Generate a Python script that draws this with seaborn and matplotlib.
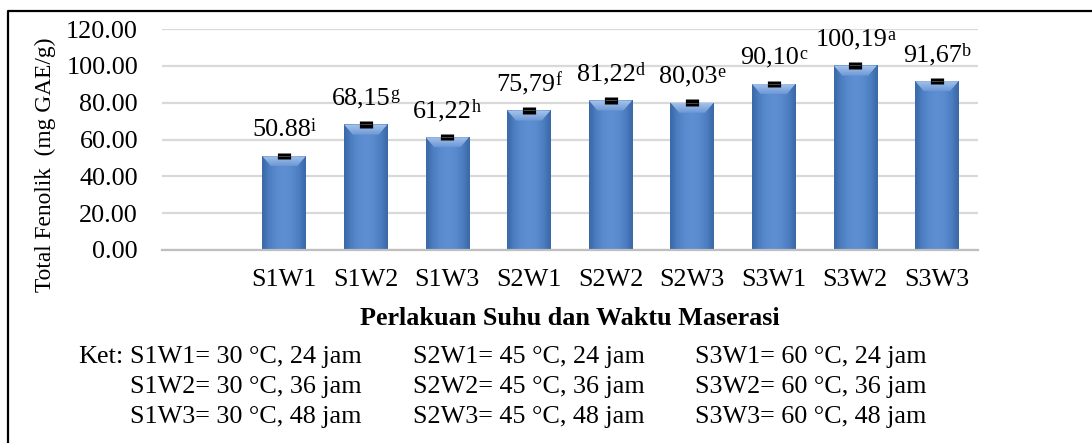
import numpy as np
import pandas as pd
import matplotlib
matplotlib.use("Agg")
import matplotlib.pyplot as plt
import seaborn as sns
from matplotlib.colors import LinearSegmentedColormap
from matplotlib.lines import Line2D
from matplotlib.patches import Polygon

# ---- data ----
categories = ["S1W1", "S1W2", "S1W3", "S2W1", "S2W2", "S2W3", "S3W1", "S3W2", "S3W3"]
values = [50.88, 68.15, 61.22, 75.79, 81.22, 80.03, 90.10, 100.19, 91.67]
errors = [1.7, 1.7, 1.7, 1.7, 1.7, 1.7, 1.7, 1.7, 1.7]
value_labels = ["50.88", "68,15", "61,22", "75,79", "81,22", "80,03", "90,10", "100,19", "91,67"]
letters = ["i", "g", "h", "f", "d", "e", "c", "a", "b"]
y_ticks = [0, 20, 40, 60, 80, 100, 120]
temps = [30, 45, 60]
times = [24, 36, 48]

sns.set_theme(style="white")
plt.rcParams["font.family"] = ["Liberation Serif", "DejaVu Serif"]

FS = 18.8
SUP_FS = 13
W, H = 1092, 443
fig = plt.figure(figsize=(W / 100, H / 100), dpi=100)
ax = fig.add_axes([161.7 / W, 1 - 250 / H, 816 / W, 221 / H])

df = pd.DataFrame({"cat": categories, "val": values})
sns.barplot(data=df, x="cat", y="val", order=categories, color="#4F81BD",
            width=0.53, errorbar=None, ax=ax, zorder=2)

# gradient fill on bars
cmap = LinearSegmentedColormap.from_list(
    "bar", ["#3A67A6", "#4C7EC2", "#5A8BCF", "#5E8FD2", "#5A8BCF", "#4C7EC2", "#3A67A6"])
grad = np.linspace(0, 1, 256).reshape(1, -1)
vgrad = np.linspace(1, 0, 64).reshape(-1, 1)
top_cmap = LinearSegmentedColormap.from_list("top", ["#6C98D6", "#A9C6EC"])
for p in ax.patches:
    x0, y0 = p.get_x(), p.get_y()
    w, h = p.get_width(), p.get_height()
    p.set_edgecolor("none")
    im = ax.imshow(grad, cmap=cmap, aspect="auto", extent=[x0, x0 + w, y0, y0 + h],
                   zorder=2.1, interpolation="bilinear")
    im.set_clip_path(p)
    bh = 5.5
    d = w * 0.2
    top = y0 + h
    bevel = Polygon([[x0, top], [x0 + w, top], [x0 + w - d, top - bh], [x0 + d, top - bh]],
                    closed=True, facecolor="none", edgecolor="none", zorder=2.2)
    ax.add_patch(bevel)
    imt = ax.imshow(vgrad, cmap=top_cmap, aspect="auto",
                    extent=[x0, x0 + w, top - bh, top], zorder=2.2, interpolation="bilinear")
    imt.set_clip_path(bevel)

xs = np.arange(len(categories))
eb = ax.errorbar(xs, values, yerr=errors, fmt="none", ecolor="black",
                 elinewidth=9.5, capsize=0, zorder=3)
for lc in eb.lines[2]:
    lc.set_capstyle("butt")
ax.scatter(xs, values, marker="_", s=70, color="#555555", linewidths=0.6, zorder=3.5)

# value labels with superscript letters (combined label centred on bar)
renderer = fig.canvas.get_renderer()
px2pt = 72 / 100
MAIN_OFF = 14.5
SUP_OFF = 18.3
for x, v, t, l in zip(xs, values, value_labels, letters):
    main = ax.annotate(t, xy=(x, v), xytext=(0, MAIN_OFF), textcoords="offset points",
                       ha="center", va="baseline", fontsize=FS, color="black", zorder=4)
    sup = ax.annotate(l, xy=(x, v), xytext=(0, SUP_OFF), textcoords="offset points",
                      ha="left", va="baseline", fontsize=SUP_FS, color="black", zorder=4)
    w1 = main.get_window_extent(renderer).width
    w2 = sup.get_window_extent(renderer).width
    main.set_position((-w2 / 2 * px2pt, MAIN_OFF))
    sup.set_position(((w1 - w2) / 2 * px2pt, SUP_OFF))

ax.set_xlim(-1.5, len(categories) - 0.5)
ax.set_ylim(0, 120)
ax.set_yticks(y_ticks)
ax.set_yticklabels([f"{t:.2f}" for t in y_ticks])
ax.yaxis.grid(True, color="#D9D9D9", linewidth=1.6, zorder=0)
ax.set_axisbelow(True)
ax.xaxis.grid(False)

for s in ["left", "right", "top"]:
    ax.spines[s].set_visible(False)
ax.spines["bottom"].set_color("#BFBFBF")
ax.spines["bottom"].set_linewidth(1.6)
ax.spines["bottom"].set_zorder(5)

ax.set_xticks(np.arange(-1.5, len(categories), 1.0), minor=True)
ax.tick_params(axis="x", which="minor", length=5, width=1.4, color="#BFBFBF", direction="out")
ax.tick_params(axis="x", which="major", length=0, pad=14, labelsize=FS, labelcolor="black")
ax.tick_params(axis="y", which="major", length=0, pad=17, labelsize=FS, labelcolor="black")

ax.set_xlabel("Perlakuan Suhu dan Waktu Maserasi", fontsize=FS, fontweight="bold", color="black")
ax.xaxis.set_label_coords(0.5, -0.258)
ax.xaxis.label.set_va("top")
ax.set_ylabel("Total Fenolik  (mg GAE/g)", fontsize=16.8, color="black")
ax.yaxis.label.set_va("center")
ax.yaxis.set_label_coords((45 - 161.7) / 816, (250 - 165) / 221)

# keterangan
col_x = [130, 413, 695]
row_y = [363, 393, 423]
for i, tc in enumerate(temps):
    for j, tm in enumerate(times):
        txt = f"S{i + 1}W{j + 1}= {tc} \u00b0C, {tm} jam"
        fig.text(col_x[i] / W, 1 - row_y[j] / H, txt, fontsize=FS, color="black",
                 ha="left", va="baseline")
fig.text(78 / W, 1 - row_y[0] / H, "Ket:", fontsize=FS, color="black", ha="left", va="baseline")

# outer frame (top and left)
fig.add_artist(Line2D([8 / W, 8 / W, 1.0], [0.0, 1 - 11 / H, 1 - 11 / H],
                      color="black", linewidth=1.6, transform=fig.transFigure))

fig.savefig("out.png", dpi=100)
